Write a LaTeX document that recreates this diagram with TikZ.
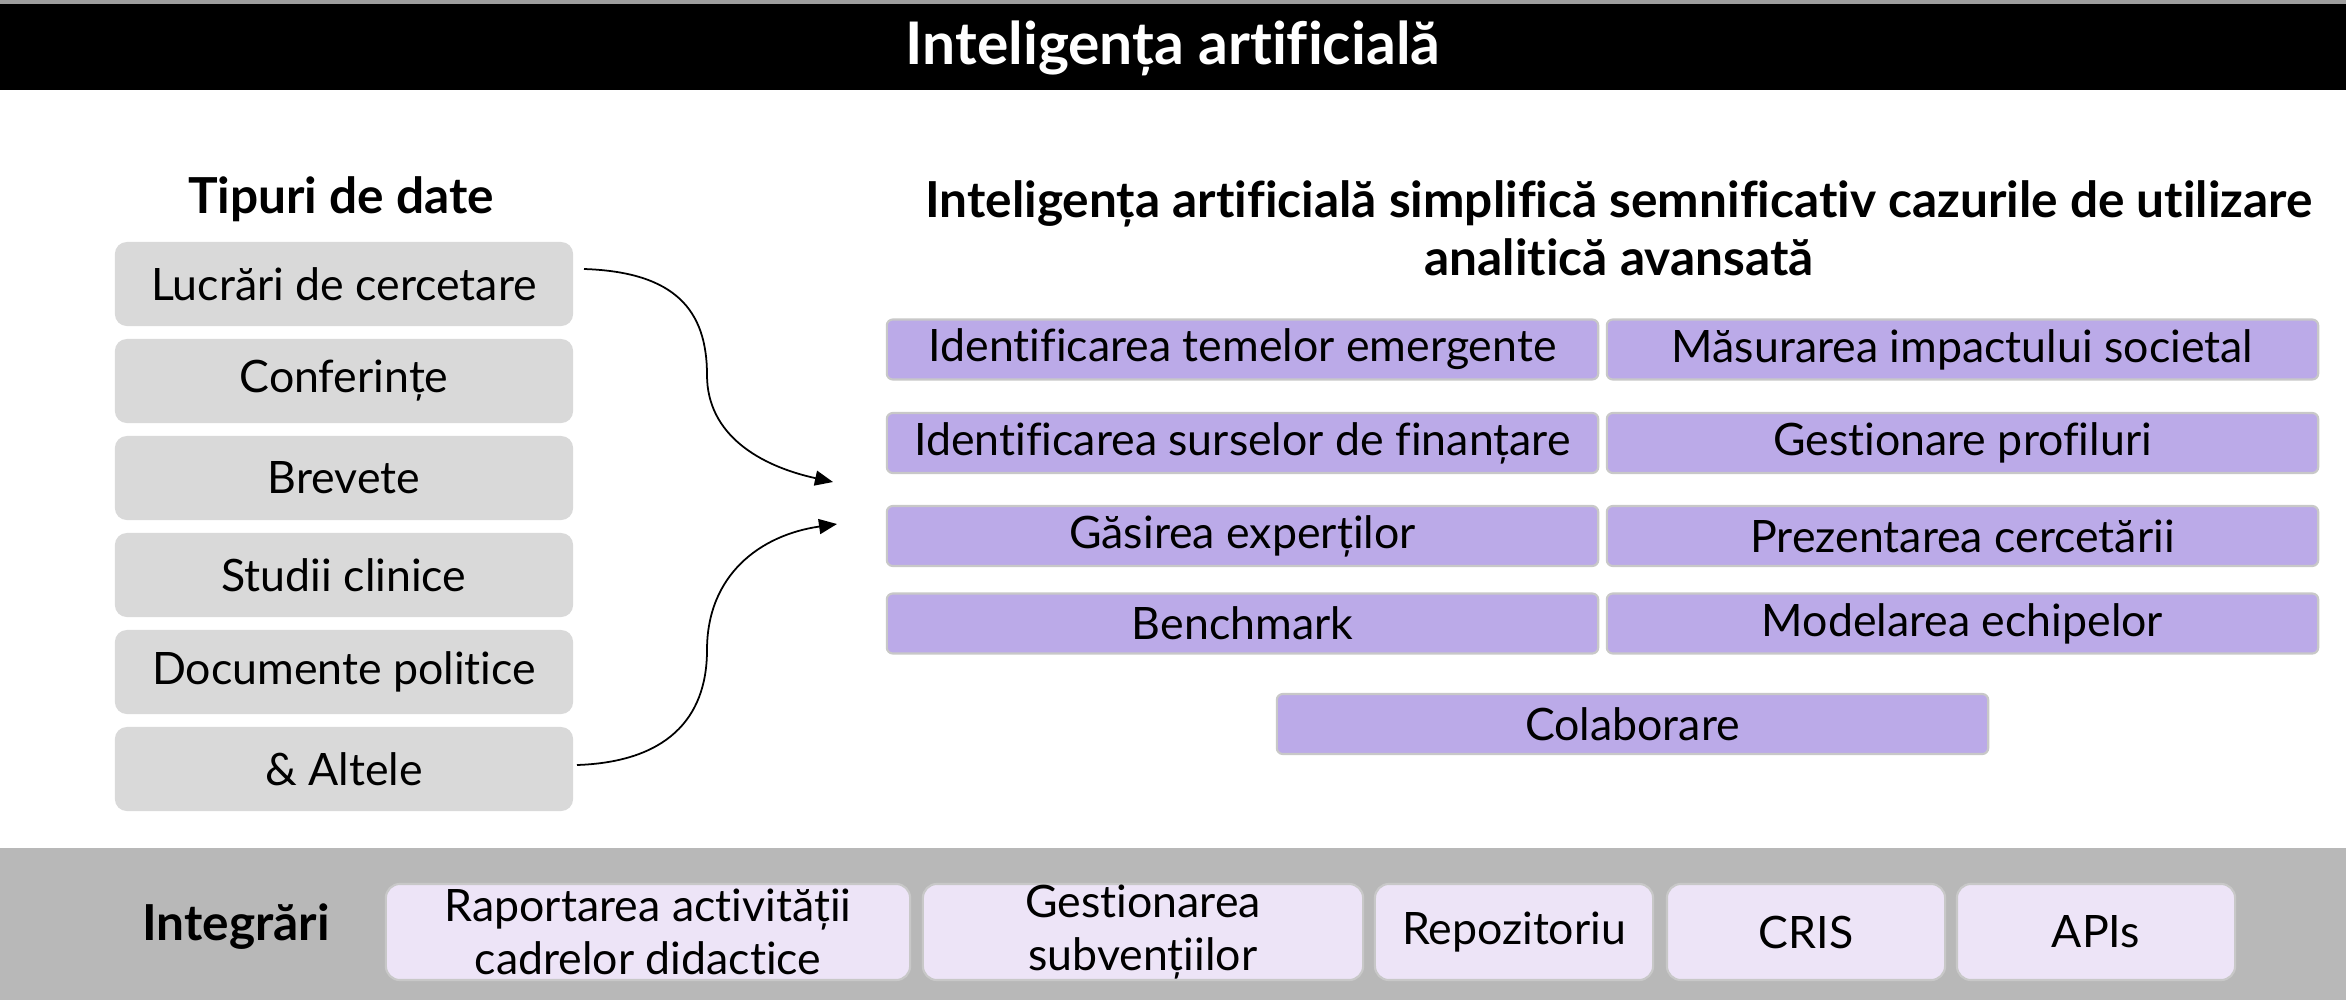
\documentclass[tikz,border=0pt]{standalone}
\usepackage{fontspec}
\setmainfont[Ligatures=NoCommon]{Lato}
\usetikzlibrary{arrows.meta}
\definecolor{grbox}{RGB}{217,217,217}
\definecolor{purp}{RGB}{187,170,232}
\definecolor{lav}{RGB}{237,228,247}
\definecolor{band}{RGB}{184,184,184}
\definecolor{edgegray}{RGB}{200,200,200}
\tikzset{
  txt/.style={font=\fontsize{12.7}{15}\selectfont},
  hdr/.style={font=\fontsize{14.1}{16.5}\selectfont\bfseries},
  datab/.style={txt, fill=grbox, rounded corners=12*0.01cm, minimum width=4.58cm, minimum height=0.84cm, inner sep=0pt},
  useb/.style={txt, fill=purp, draw=edgegray, line width=0.6pt, rounded corners=6*0.01cm, minimum width=7.11cm, minimum height=0.6cm, inner sep=0pt},
  intb/.style={txt, fill=lav, draw=edgegray, line width=0.6pt, rounded corners=14*0.01cm, minimum height=0.96cm, inner sep=0pt, align=center},
  conn/.style={line width=0.5pt, -{Triangle[length=0.18cm,width=0.15cm]}}
}
\begin{document}
\begin{tikzpicture}[x=0.01cm,y=-0.01cm]
\useasboundingbox (0,0) rectangle (2346,1000);
% title bar
\fill[black!38] (0,0) rectangle (2346,4);
\fill[black] (0,4) rectangle (2346,90);
\node[font=\fontsize{16.7}{19}\selectfont\bfseries, text=white] (title) at (1173,48) {Inteligența artificială};
% left column
\node[hdr] (tip) at (341,199) {Tipuri de date};
\node[datab] (d1) at (344,284) {Lucrări de cercetare};
\node[datab] (d2) at (344,381) {Conferințe};
\node[datab] (d3) at (344,478) {Brevete};
\node[datab] (d4) at (344,575) {Studii clinice};
\node[datab] (d5) at (344,672) {Documente politice};
\node[datab] (d6) at (344,769) {\& Altele};
% header
\node[hdr, align=center] (main) at (1619,228) {Inteligența artificială simplifică semnificativ cazurile de utilizare\\analitică avansată};
% use cases
\node[useb] (u1) at (1242.5,349.5) {Identificarea temelor emergente};
\node[useb] (u2) at (1962.5,349.5) {Măsurarea impactului societal};
\node[useb] (u3) at (1242.5,443) {Identificarea surselor de finanțare};
\node[useb] (u4) at (1962.5,443) {Gestionare profiluri};
\node[useb] (u5) at (1242.5,536) {Găsirea experților};
\node[useb] (u6) at (1962.5,536) {Prezentarea cercetării};
\node[useb] (u7) at (1242.5,623.5) {Benchmark};
\node[useb] (u8) at (1962.5,623.5) {Modelarea echipelor};
\node[useb] (u9) at (1632.5,724) {Colaborare};
% connectors
\coordinate (s1) at (584,269);
\coordinate (e1) at (833,482);
\coordinate (s2) at (577,765);
\coordinate (e2) at (837,524);
\draw[conn] (s1) .. controls (675,272) and (707,310) .. (707,375) .. controls (707,435) and (760,466) .. (e1);
\draw[conn] (s2) .. controls (665,762) and (707,720) .. (707,650) .. controls (707,575) and (760,535) .. (e2);
% bottom band
\fill[band] (0,848) rectangle (2346,1000);
\node[hdr] (integ) at (236,927) {Integrări};
\node[intb, minimum width=5.24cm] (i1) at (648,932) {Raportarea activității\\cadrelor didactice};
\node[intb, minimum width=4.40cm] (i2) at (1143,932) {Gestionarea\\subvențiilor};
\node[intb, minimum width=2.78cm] (i3) at (1514,932) {Repozitoriu};
\node[intb, minimum width=2.78cm] (i4) at (1806,932) {CRIS};
\node[intb, minimum width=2.78cm] (i5) at (2096,932) {APIs};
\end{tikzpicture}
\end{document}
